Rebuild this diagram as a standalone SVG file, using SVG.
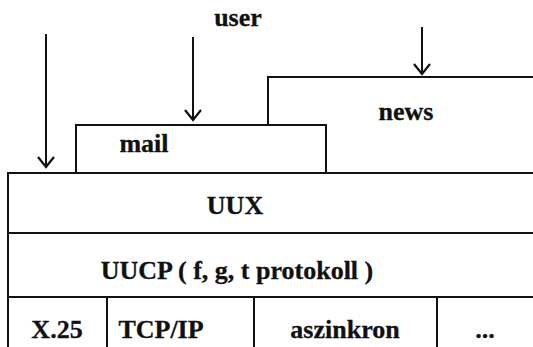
<svg xmlns="http://www.w3.org/2000/svg" width="533" height="347" viewBox="0 0 533 347">
<defs>
<style>
.box{fill:#fff;stroke:#111;stroke-width:2}
.ln{stroke:#111;stroke-width:2;fill:none}
.t{font-family:'Liberation Serif','Times New Roman','DejaVu Serif',serif;font-weight:bold;font-size:26px;fill:#111;stroke:#111;stroke-width:0.3;text-anchor:middle}
</style>
<marker id="ah" viewBox="0 0 14 20" refX="12" refY="10" markerWidth="14" markerHeight="20" markerUnits="userSpaceOnUse" orient="auto">
<path d="M2,2 L12,10 L2,18" fill="none" stroke="#111" stroke-width="2.2"/>
</marker>
</defs>
<rect width="533" height="347" fill="#fff"/>
<g id="news"><rect class="box" x="268" y="77" width="280" height="96"/><text class="t" x="406" y="120">news</text></g>
<g id="mail"><rect class="box" x="76" y="125" width="250" height="48"/><text class="t" x="144" y="152">mail</text></g>
<g id="uux"><rect class="box" x="8" y="173" width="540" height="60"/><text class="t" x="235" y="214">UUX</text></g>
<g id="uucp"><rect class="box" x="8" y="233" width="540" height="64"/><text class="t" x="237" y="279">UUCP ( f, g, t protokoll )</text></g>
<g id="x25"><rect class="box" x="8" y="297" width="99" height="60"/><text class="t" x="57" y="338">X.25</text></g>
<g id="tcpip"><rect class="box" x="107" y="297" width="147" height="60"/><text class="t" x="161" y="338">TCP/IP</text></g>
<g id="aszinkron"><rect class="box" x="254" y="297" width="183" height="60"/><text class="t" x="345" y="338">aszinkron</text></g>
<g id="etc"><rect class="box" x="437" y="297" width="110" height="60"/><text class="t" x="485" y="338">...</text></g>
<g id="user"><text class="t" x="238" y="26">user</text></g>
<g id="connectors">
<line class="ln" x1="46" y1="34" x2="46" y2="167" marker-end="url(#ah)"/>
<line class="ln" x1="193" y1="37" x2="193" y2="120" marker-end="url(#ah)"/>
<line class="ln" x1="422" y1="27" x2="422" y2="74" marker-end="url(#ah)"/>
</g>
</svg>
